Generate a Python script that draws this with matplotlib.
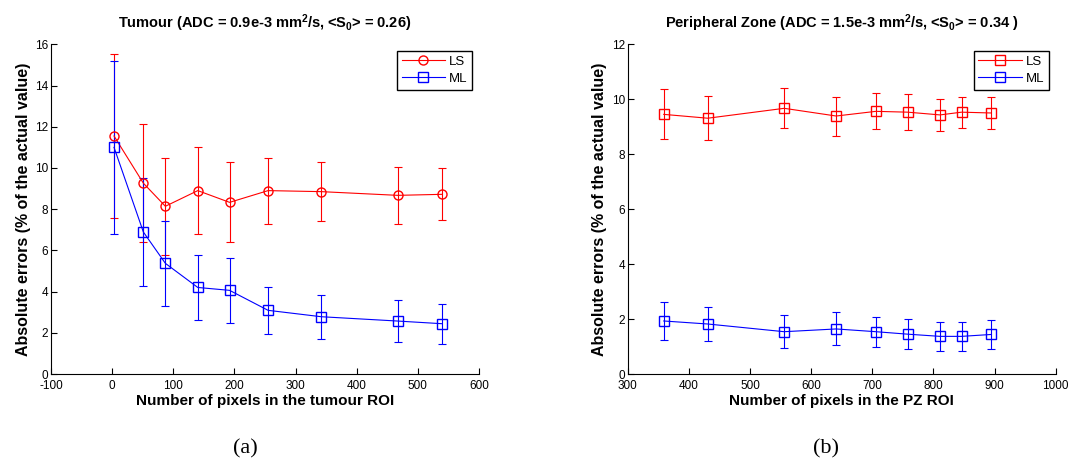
import matplotlib
matplotlib.use("Agg")
import matplotlib.pyplot as plt
from matplotlib import font_manager as fm
from matplotlib.lines import Line2D
import numpy as np

# ---- data ----
tum_x = [3, 51, 87, 140, 192, 255, 342, 467, 540]
tum_ls = [11.55, 9.26, 8.14, 8.9, 8.33, 8.9, 8.85, 8.67, 8.72]
tum_ls_err = [4.0, 2.85, 2.35, 2.1, 1.94, 1.6, 1.43, 1.39, 1.27]
tum_ml = [11.0, 6.89, 5.37, 4.2, 4.06, 3.09, 2.78, 2.57, 2.44]
tum_ml_err = [4.2, 2.6, 2.05, 1.56, 1.58, 1.15, 1.07, 1.0, 0.97]

pz_x = [359, 431, 556, 641, 706, 758, 811, 846, 895]
pz_ls = [9.45, 9.31, 9.67, 9.39, 9.56, 9.53, 9.43, 9.53, 9.5]
pz_ls_err = [0.91, 0.8, 0.73, 0.71, 0.66, 0.66, 0.59, 0.57, 0.6]
pz_ml = [1.93, 1.82, 1.54, 1.64, 1.54, 1.45, 1.37, 1.37, 1.44]
pz_ml_err = [0.68, 0.62, 0.6, 0.6, 0.55, 0.55, 0.52, 0.52, 0.53]

titles = ["Tumour (ADC = 0.9e-3 mm$^2$/s, <S$_0$> = 0.26)",
          "Peripheral Zone (ADC = 1.5e-3 mm$^2$/s, <S$_0$> = 0.34 )"]
xlabels = ["Number of pixels in the tumour ROI", "Number of pixels in the PZ ROI"]
ylabel = "Absolute errors (% of the actual value)"
captions = ["(a)", "(b)"]

names = {f.name for f in fm.fontManager.ttflist}
title_font = "Liberation Sans Narrow" if "Liberation Sans Narrow" in names else "Liberation Sans"

plt.rcParams['font.family'] = ['Liberation Sans', 'DejaVu Sans']
plt.rcParams['axes.unicode_minus'] = False
plt.rcParams['mathtext.fontset'] = 'custom'
plt.rcParams['mathtext.rm'] = title_font + ':bold'
plt.rcParams['mathtext.default'] = 'rm'

RED = '#ff0000'
BLUE = '#0000ff'

fig = plt.figure(figsize=(10.7, 4.61), dpi=100)
ax1 = fig.add_axes([0.0477, 0.1887, 0.4, 0.7152])
ax2 = fig.add_axes([0.5866, 0.1887, 0.4, 0.7152])

def draw(ax, x, ls, lse, ml, mle, ls_marker):
    ax.errorbar(x, ls, yerr=lse, color=RED, lw=0.8, marker=ls_marker,
                mfc='none', mec=RED, ms=6.5, capsize=3, elinewidth=0.8,
                capthick=0.8)
    ax.errorbar(x, ml, yerr=mle, color=BLUE, lw=0.8, marker='s',
                mfc='none', mec=BLUE, ms=6.5, capsize=3, elinewidth=0.8,
                capthick=0.8)
    return [Line2D([], [], color=RED, lw=0.8, marker=ls_marker, mfc='none', mec=RED, ms=6.5),
            Line2D([], [], color=BLUE, lw=0.8, marker='s', mfc='none', mec=BLUE, ms=6.5)]

h1 = draw(ax1, tum_x, tum_ls, tum_ls_err, tum_ml, tum_ml_err, 'o')
h2 = draw(ax2, pz_x, pz_ls, pz_ls_err, pz_ml, pz_ml_err, 's')

ax1.set_xlim(-100, 600); ax1.set_ylim(0, 16)
ax1.set_xticks(np.arange(-100, 601, 100)); ax1.set_yticks(np.arange(0, 17, 2))
ax2.set_xlim(300, 1000); ax2.set_ylim(0, 12)
ax2.set_xticks(np.arange(300, 1001, 100)); ax2.set_yticks(np.arange(0, 13, 2))

for i, (ax, hs) in enumerate([(ax1, h1), (ax2, h2)]):
    for s in ['top', 'right']:
        ax.spines[s].set_visible(False)
    for s in ['left', 'bottom']:
        ax.spines[s].set_linewidth(0.8)
    ax.tick_params(direction='in', length=4, width=0.8, labelsize=8.5)
    ax.tick_params(axis='x', pad=4)
    ax.tick_params(axis='y', pad=2)
    ax.set_title(titles[i], fontsize=10.5, fontweight='bold', family=title_font, pad=12)
    ax.set_xlabel(xlabels[i], fontsize=11, fontweight='bold', labelpad=2)
    ax.set_ylabel(ylabel, fontsize=11.5, fontweight='bold', labelpad=3)
    leg = ax.legend(hs, ['LS', 'ML'], loc='upper right', fontsize=9.5, fancybox=False,
                    framealpha=1, edgecolor='black', handlelength=3.3, borderpad=0.35,
                    borderaxespad=0, handletextpad=0.3, labelspacing=0.35,
                    bbox_to_anchor=(0.984, 0.979))
    leg.get_frame().set_linewidth(1.0)
    fig.text(0.229 if i == 0 else 0.772, 0.027, captions[i], family='Liberation Serif',
             fontsize=16, ha='center', va='center')

fig.savefig('out.png', dpi=100)
